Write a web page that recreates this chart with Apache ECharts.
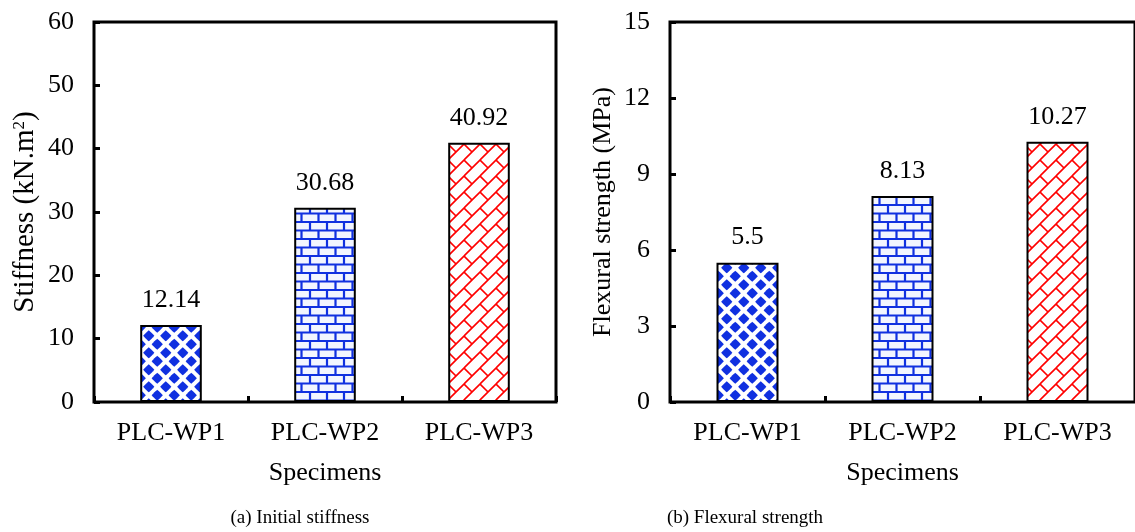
<!DOCTYPE html>
<html><head><meta charset="utf-8">
<script src="https://cdn.jsdelivr.net/npm/echarts@6/dist/echarts.min.js"></script>
<style>html,body{margin:0;padding:0;background:#fff}#c{width:1135px;height:532px}</style>
</head><body><div id="c"></div>
<script>
const categories = ['PLC-WP1', 'PLC-WP2', 'PLC-WP3'];
const stiffness = [12.14, 30.68, 40.92];
const strength = [5.5, 8.13, 10.27];
const stiffTicks = {min: 0, max: 60, interval: 10};
const strengthTicks = {min: 0, max: 15, interval: 3};
const captions = ['(a) Initial stiffness', '(b) Flexural strength'];

const BLUE = '#1030e0', RED = '#ff0000';
function dots() {
  const T = 17;
  const c = document.createElement('canvas'); c.width = T; c.height = T;
  const g = c.getContext('2d'); g.fillStyle = '#fff'; g.fillRect(0,0,T,T);
  g.fillStyle = BLUE;
  const r = 5.6, k = 3.0;
  const blob = (x,y) => {
    g.beginPath(); g.moveTo(x, y-r);
    g.quadraticCurveTo(x+k,y-k,x+r,y); g.quadraticCurveTo(x+k,y+k,x,y+r);
    g.quadraticCurveTo(x-k,y+k,x-r,y); g.quadraticCurveTo(x-k,y-k,x,y-r); g.fill();
  };
  for (let i = -1; i <= 1; i++) for (let j = -1; j <= 1; j++) { blob(4.25+i*T, 4.25+j*T); blob(12.75+i*T, 12.75+j*T); }
  return c;
}
function bricks() {
  const w = 17, h = 17;
  const c = document.createElement('canvas'); c.width = w; c.height = h;
  const g = c.getContext('2d'); g.fillStyle = '#f2f5ff'; g.fillRect(0,0,w,h);
  g.strokeStyle = BLUE; g.lineWidth = 2.2;
  g.beginPath();
  g.moveTo(0, 1); g.lineTo(w, 1);
  g.moveTo(0, 9.5); g.lineTo(w, 9.5);
  g.moveTo(4, 1); g.lineTo(4, 9.5);
  g.moveTo(12.5, 9.5); g.lineTo(12.5, 17); g.moveTo(12.5,0); g.lineTo(12.5,1);
  g.stroke();
  return c;
}
function lattice() {
  const T = 16;
  const c = document.createElement('canvas'); c.width = T; c.height = T;
  const g = c.getContext('2d'); g.fillStyle = '#fff'; g.fillRect(0,0,T,T);
  g.strokeStyle = RED; g.lineWidth = 1.6;
  g.beginPath();
  for (let i = -1; i <= 1; i++) for (let j = -1; j <= 1; j++) {
    const ox = i*T, oy = j*T;
    g.moveTo(ox, oy+T); g.lineTo(ox+T, oy);
    g.moveTo(ox, oy); g.lineTo(ox+8, oy+8);
  }
  g.stroke();
  return c;
}
const pats = [dots(), bricks(), lattice()].map(img => ({image: img, repeat: 'repeat'}));

const FONT = 'Liberation Serif';
const FS = 26;
function mkAxes(idx, ticks, yName, yFs) {
  return {
    x: {
      type: 'category', gridIndex: idx, data: categories,
      axisLine: {show: false},
      axisTick: {show: true, inside: true, length: 6, lineStyle: {color: '#000', width: 3}},
      axisLabel: {color: '#000', fontFamily: FONT, fontSize: FS, margin: 18},
      name: 'Specimens', nameLocation: 'middle', nameGap: 58,
      nameTextStyle: {color: '#000', fontFamily: FONT, fontSize: FS},
      splitLine: {show: false}
    },
    y: {
      type: 'value', gridIndex: idx, min: ticks.min, max: ticks.max, interval: ticks.interval,
      axisLine: {show: false},
      axisTick: {show: true, inside: true, length: 6, lineStyle: {color: '#000', width: 3}},
      axisLabel: {color: '#000', fontFamily: FONT, fontSize: FS, margin: 20},
      splitLine: {show: false},
      name: yName, nameLocation: 'middle', nameGap: 54, nameRotate: 90,
      nameTextStyle: {color: '#000', fontFamily: FONT, fontSize: yFs,
        rich: {t: {fontFamily: FONT, fontSize: yFs, color: '#000'}, s: {fontFamily: FONT, fontSize: Math.round(yFs * 0.6), color: '#000', verticalAlign: 'top', padding: [0,0,12,0]}}}
    }
  };
}
const a0 = mkAxes(0, stiffTicks, '{t|Stiffness (kN.m}{s|2}{t|)}', 29);
const a1 = mkAxes(1, strengthTicks, 'Flexural strength (MPa)', FS);
function series(idx, vals) {
  return {
    type: 'bar', xAxisIndex: idx, yAxisIndex: idx, barWidth: '40%',
    data: vals.map((v, i) => ({value: v, itemStyle: {color: pats[i]}})),
    itemStyle: {borderColor: '#000', borderWidth: 2},
    label: {show: true, position: 'top', distance: 12, color: '#000', fontFamily: FONT, fontSize: FS},
    emphasis: {disabled: true}, animation: false
  };
}
const chart = echarts.init(document.getElementById('c'), null, {renderer: 'canvas'});
const capStyle = {fontFamily: FONT, fontSize: 19, fontWeight: 'normal', color: '#000'};
chart.setOption({
  animation: false,
  textStyle: {fontFamily: FONT},
  grid: [
    {left: 94, right: 579, top: 22, bottom: 130, show: true, borderColor: '#000', borderWidth: 3, backgroundColor: 'transparent'},
    {left: 670, right: -6, top: 22, bottom: 130, show: true, borderColor: '#000', borderWidth: 3, backgroundColor: 'transparent'}
  ],
  title: [
    {text: captions[0], left: 300, top: 509, padding: 0, textAlign: 'center', textStyle: capStyle},
    {text: captions[1], left: 745, top: 509, padding: 0, textAlign: 'center', textStyle: capStyle}
  ],
  xAxis: [a0.x, a1.x],
  yAxis: [a0.y, a1.y],
  series: [series(0, stiffness), series(1, strength)]
});
</script></body></html>
